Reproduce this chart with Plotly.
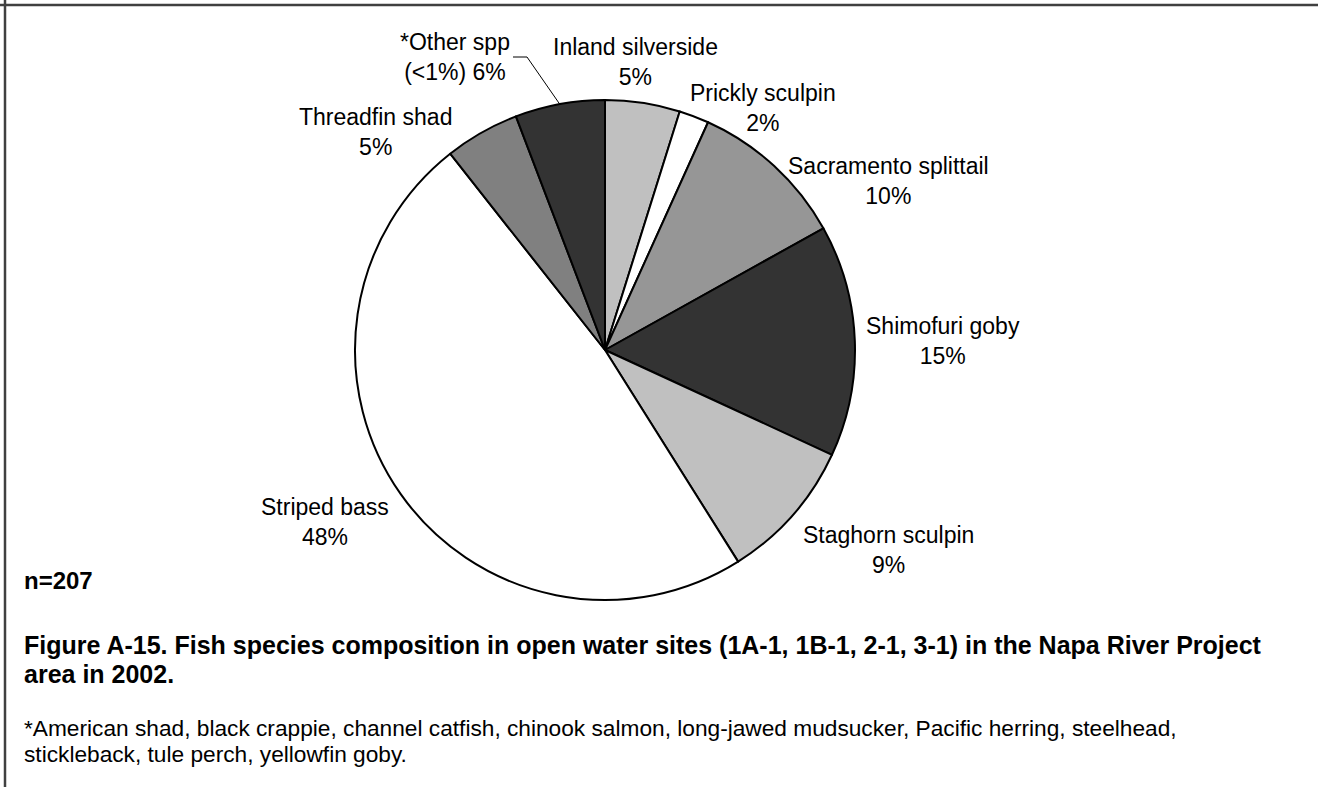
import math
import plotly.graph_objects as go

W, H = 1318, 787

# counts per species (n=207), clockwise from 12 o'clock
species = ["Inland silverside", "Prickly sculpin", "Sacramento splittail", "Shimofuri goby",
           "Staghorn sculpin", "Striped bass", "Threadfin shad", "*Other spp"]
counts = [10, 4, 21, 31, 19, 100, 10, 12]
colors = ["#c0c0c0", "#ffffff", "#969696", "#333333", "#c0c0c0", "#ffffff", "#808080", "#333333"]

caption = ["Figure A-15. Fish species composition in open water sites (1A-1, 1B-1, 2-1, 3-1) in the Napa River Project",
           "area in 2002."]
footnote = ["*American shad, black crappie, channel catfish, chinook salmon, long-jawed mudsucker, Pacific herring, steelhead,",
            "stickleback, tule perch, yellowfin goby."]

# pie geometry (pixels)
cx, cy, r = 605, 350, 250
# label block centres (pixels)
label_pos = [(635, 62), (763, 108), (888, 181), (943, 341), (888, 550), (325, 522), (375, 132), (455, 57)]

def px(x):
    return x / W

def py(y):
    return 1 - y / H

total = sum(counts)
pcts = [round(c / total * 100) for c in counts]

fig = go.Figure(go.Pie(
    values=counts, labels=species, sort=False, direction="clockwise", rotation=0,
    marker=dict(colors=colors, line=dict(color="#000000", width=2)),
    textinfo="none", hoverinfo="label+percent", showlegend=False,
    domain=dict(x=[px(cx - r), px(cx + r)], y=[py(cy + r), py(cy - r)]),
))

font = dict(family="Liberation Sans, Arial, sans-serif", color="#000000")
ann = []
for name, p, (lx, ly) in zip(species, pcts, label_pos):
    if name.startswith("*Other"):
        text = name + "<br>(<1%) " + str(p) + "%"
    else:
        text = name + "<br>" + str(p) + "%"
    ann.append(dict(x=px(lx), y=py(ly), xref="paper", yref="paper", text=text, showarrow=False,
                    xanchor="center", yanchor="middle", align="center", font=dict(size=23, **font)))

ann.append(dict(x=px(22), y=py(580), xref="paper", yref="paper", text="<b>n=207</b>", showarrow=False,
                xanchor="left", yanchor="middle", font=dict(size=24, **font)))
for i, line in enumerate(caption):
    ann.append(dict(x=px(22), y=py(645 + 29 * i), xref="paper", yref="paper", text="<b>" + line + "</b>",
                    showarrow=False, xanchor="left", yanchor="middle", font=dict(size=25, **font)))
for i, line in enumerate(footnote):
    ann.append(dict(x=px(22), y=py(728 + 26 * i), xref="paper", yref="paper", text=line,
                    showarrow=False, xanchor="left", yanchor="middle", font=dict(size=22.7, **font)))

# leader line for "Other spp" to the middle of its slice
start = sum(counts[:-1]) / total
mid = (start + 1) / 2 * 2 * math.pi
ex, ey = cx + r * math.sin(mid), cy - r * math.cos(mid)
shapes = [
    dict(type="path", xref="paper", yref="paper",
         path="M {} {} L {} {} L {} {}".format(px(513), py(57), px(527), py(57), px(ex), py(ey)),
         line=dict(color="#000000", width=1)),
    dict(type="line", xref="paper", yref="paper", x0=0, x1=1, y0=py(5), y1=py(5),
         line=dict(color="#404040", width=2.5)),
    dict(type="line", xref="paper", yref="paper", x0=px(5), x1=px(5), y0=0, y1=1,
         line=dict(color="#404040", width=2.5)),
]

fig.update_layout(width=W, height=H, margin=dict(l=0, r=0, t=0, b=0),
                  paper_bgcolor="white", plot_bgcolor="white",
                  annotations=ann, shapes=shapes)

fig.write_html("out.html", config={"displayModeBar": False},
               post_script="document.body.style.margin='0px';")
